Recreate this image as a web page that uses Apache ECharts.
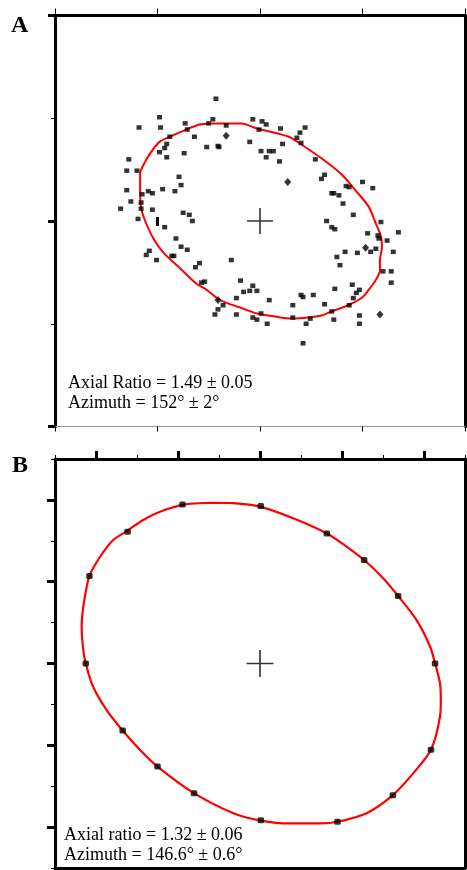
<!DOCTYPE html>
<html>
<head>
<meta charset="utf-8">
<script src="https://cdn.jsdelivr.net/npm/echarts@6/dist/echarts.min.js"></script>
<style>
html,body{margin:0;padding:0;background:#fff;}
#chart{width:467px;height:870px;}
</style>
</head>
<body>
<div id="chart"></div>
<script>
// ---------- Panel A data (arbitrary units, centre at 0,0) ----------
const panelADots = [
[-0.43,1.19],[-0.98,1.01],[-1.18,0.91],[-0.97,0.91],[-0.73,0.95],[-0.71,0.89],[-0.46,0.99],[-0.50,0.95],[-0.33,0.93],[-0.07,0.99],
[0.02,0.97],[0.06,0.94],[-0.01,0.89],[0.20,0.90],[0.44,0.91],[0.39,0.86],[0.36,0.81],[0.40,0.76],[0.22,0.75],[-0.10,0.77],
[-0.64,0.82],[-0.88,0.82],[-0.91,0.75],[-0.93,0.71],[-0.98,0.67],[-0.91,0.62],[-0.74,0.66],[-0.52,0.72],[-0.41,0.73],
[-0.40,0.72],[0.01,0.68],[0.09,0.68],[0.13,0.68],[0.06,0.62],[0.19,0.58],[0.54,0.60],[-1.28,0.60],[-1.30,0.49],[-1.20,0.49],
[-0.79,0.43],[-0.77,0.35],[-0.83,0.29],[-0.95,0.31],[-1.09,0.29],[-1.05,0.27],[-1.15,0.26],[-1.30,0.30],[-1.26,0.19],[-1.16,0.18],
[-1.16,0.12],[-1.05,0.11],[-1.36,0.12],[-1.19,0.02],[-0.75,0.08],[-0.69,0.06],[-0.66,0.00],[0.60,0.41],[0.63,0.45],
[0.84,0.34],[0.87,0.33],[1.00,0.38],[1.10,0.32],[0.70,0.27],[0.72,0.27],[0.77,0.25],[0.81,0.17],[0.91,0.06],[0.65,0.00],
[1.18,-0.01],[0.70,-0.06],[0.73,-0.08],[1.05,-0.12],[1.35,-0.11],[1.15,-0.14],[1.16,-0.17],[1.24,-0.19],[-0.93,-0.06],[-0.82,-0.17],
[-0.77,-0.25],[-0.71,-0.28],[-1.08,-0.29],[-1.11,-0.33],[-1.01,-0.38],[-0.86,-0.34],[-0.84,-0.34],[-0.28,-0.38],[-0.59,-0.41],[-0.63,-0.45],
[-0.57,-0.60],[-0.54,-0.59],[-0.19,-0.58],[-0.07,-0.63],[-0.16,-0.69],[-0.10,-0.68],[-0.03,-0.68],[-0.23,-0.75],[-0.36,-0.82],
[-0.41,-0.86],[-0.44,-0.91],[-0.23,-0.91],[-0.07,-0.94],[-0.03,-0.96],[0.01,-0.90],[0.07,-1.00],[0.09,-0.77],[0.32,-0.82],[0.40,-0.72],
[0.42,-0.74],[0.52,-0.72],[0.32,-0.94],[0.45,-1.00],[0.49,-0.95],[0.42,-1.19],[0.63,-0.81],[0.70,-0.88],[0.72,-0.96],[0.73,-0.66],
[0.75,-0.35],[0.83,-0.30],[0.78,-0.43],[0.95,-0.31],[0.90,-0.62],[0.97,-0.67],[0.94,-0.70],[0.91,-0.75],[0.87,-0.82],[0.97,-0.92],
[0.97,-1.00],[1.08,-0.30],[1.13,-0.27],[1.30,-0.30],[1.20,-0.49],[1.28,-0.49],[1.28,-0.60]
];
const panelADiamonds = [[-0.33,0.83],[0.27,0.38],[-0.41,-0.77],[1.03,-0.26],[1.17,-0.91]];
const panelAEllipse = [
[-0.49,0.95],[-0.18,0.95],[-0.03,0.90],[0.28,0.82],[0.41,0.74],[0.60,0.61],[0.80,0.45],[0.93,0.30],[1.06,0.14],[1.12,0.00],
[1.18,-0.15],[1.19,-0.25],[1.17,-0.38],[1.17,-0.48],[1.12,-0.59],[1.06,-0.67],[0.99,-0.75],[0.86,-0.82],[0.70,-0.88],[0.60,-0.92],
[0.47,-0.94],[0.31,-0.95],[0.15,-0.93],[-0.03,-0.90],[-0.20,-0.84],[-0.39,-0.77],[-0.52,-0.67],[-0.62,-0.61],[-0.78,-0.46],[-0.94,-0.31],
[-1.04,-0.17],[-1.12,0.00],[-1.16,0.13],[-1.17,0.30],[-1.17,0.46],[-1.14,0.54],[-1.07,0.66],[-0.98,0.77],[-0.88,0.82],[-0.72,0.89],
[-0.59,0.94],[-0.49,0.95]
];
const panelACentre = [[0,0]];
const panelAText = ['Axial Ratio = 1.49 \u00B1 0.05', 'Azimuth = 152\u00B0 \u00B1 2\u00B0'];

// ---------- Panel B data ----------
const panelBDots = [
[-1.89,3.89],[0.02,3.85],[-3.23,3.22],[1.63,3.18],[2.54,2.53],[-4.16,2.14],[3.37,1.65],[-4.25,0.00],
[4.27,0.00],[-3.35,-1.64],[4.17,-2.11],[-2.50,-2.52],[-1.61,-3.17],[3.24,-3.22],[0.02,-3.83],[1.89,-3.87]
];
const panelBEllipse = [
[-1.14,3.93],[-0.65,3.92],[0.02,3.83],[0.81,3.55],[1.63,3.18],[2.11,2.86],[2.54,2.53],[3.01,2.08],[3.37,1.65],[3.82,1.06],
[4.15,0.41],[4.27,0.00],[4.39,-0.48],[4.41,-0.89],[4.39,-1.30],[4.17,-2.11],[3.74,-2.68],[3.24,-3.22],[2.60,-3.66],[1.89,-3.87],
[1.46,-3.91],[0.73,-3.91],[0.02,-3.84],[-0.65,-3.66],[-1.61,-3.17],[-2.50,-2.52],[-2.93,-2.11],[-3.35,-1.64],[-3.74,-1.14],[-4.07,-0.57],
[-4.25,0.00],[-4.31,0.33],[-4.35,0.90],[-4.31,1.39],[-4.16,2.14],[-3.90,2.61],[-3.58,3.02],[-3.23,3.25],[-2.85,3.51],[-2.44,3.71],
[-1.89,3.88],[-1.14,3.93]
];
const panelBCentre = [[0,0]];
const panelBText = ['Axial ratio = 1.32 \u00B1 0.06', 'Azimuth = 146.6\u00B0 \u00B1 0.6\u00B0'];
const panelLabels = ['A', 'B'];

const SERIF = '"Liberation Serif","DejaVu Serif",serif';
const crossPath = 'path://M0,12.2h26v1.6h-26z M12.2,0h1.6v26h-1.6z';

const chart = echarts.init(document.getElementById('chart'), null, {renderer: 'canvas'});

function ax(grid, pos, min, max, interval, line, tick, minor, extra) {
  return Object.assign({
    type: 'value', gridIndex: grid, position: pos, min: min, max: max, interval: interval,
    axisLine: line ? {show: true, onZero: false, lineStyle: line} : {show: false},
    axisTick: tick ? Object.assign({show: true, inside: false}, tick) : {show: false},
    minorTick: minor ? Object.assign({show: true}, minor) : {show: false},
    axisLabel: {show: false}, splitLine: {show: false}, minorSplitLine: {show: false}
  }, extra || {});
}
const thick = {color: '#000', width: 3};
const thinTick = (len) => ({length: len, lineStyle: {color: '#000', width: 1}});
const thickTick = (len) => ({length: len, lineStyle: {color: '#000', width: 3}});

const option = {
  animation: false,
  backgroundColor: '#fff',
  grid: [
    {left: 55, top: 15.5, width: 410, height: 411},
    {left: 55, top: 459, width: 410, height: 409}
  ],
  xAxis: [
    ax(0, 'bottom', -2, 2, 1, {color: '#999', width: 1}, thinTick(5)),
    ax(0, 'top', -2, 2, 1, thick, thinTick(7)),
    ax(1, 'bottom', -5, 5, 1, thick, null),
    ax(1, 'top', -5, 5, 2, thick, thinTick(4), {splitNumber: 2, length: 8, lineStyle: {color: '#000', width: 3}}),
    // heavier ticks of panel A (drawn from the right edge)
    ax(0, 'top', -2, 2, 3, null, thickTick(4), null, {inverse: true}),
    ax(0, 'bottom', -2, 2, 3, null, thickTick(5), null, {inverse: true})
  ],
  yAxis: [
    ax(0, 'left', -2, 2, 2, thick, thickTick(7), {splitNumber: 2, length: 4, lineStyle: {color: '#000', width: 1}}),
    ax(0, 'right', -2, 2, 1, thick, null),
    ax(1, 'left', -5, 5, 2, thick, thinTick(4), {splitNumber: 2, length: 8, lineStyle: {color: '#000', width: 3}}),
    ax(1, 'right', -5, 5, 1, thick, null)
  ],
  series: [
    {type: 'line', xAxisIndex: 0, yAxisIndex: 0, data: panelAEllipse, smooth: 0.3, showSymbol: false, symbol: 'none',
     lineStyle: {color: '#ff0000', width: 2}, z: 2},
    {type: 'scatter', xAxisIndex: 0, yAxisIndex: 0, data: panelADots, symbol: 'rect', symbolSize: [5, 4.5],
     itemStyle: {color: '#000'}, z: 3},
    {type: 'scatter', xAxisIndex: 0, yAxisIndex: 0, data: panelADiamonds, symbol: 'diamond', symbolSize: [7, 8],
     itemStyle: {color: '#000'}, z: 3},
    {type: 'scatter', xAxisIndex: 0, yAxisIndex: 0, data: panelACentre, symbol: crossPath, symbolSize: [26, 26],
     itemStyle: {color: '#000'}, z: 3},
    {type: 'line', xAxisIndex: 2, yAxisIndex: 2, data: panelBEllipse, smooth: 0.3, showSymbol: false, symbol: 'none',
     lineStyle: {color: '#ff0000', width: 2.2}, z: 2},
    {type: 'scatter', xAxisIndex: 2, yAxisIndex: 2, data: panelBDots, symbol: 'roundRect', symbolSize: [6.5, 6],
     itemStyle: {color: '#000'}, z: 3},
    {type: 'scatter', xAxisIndex: 2, yAxisIndex: 2, data: panelBCentre, symbol: crossPath, symbolSize: [27, 27],
     itemStyle: {color: '#000'}, z: 3}
  ],
  graphic: [
    {type: 'text', left: 11, top: 14, style: {text: panelLabels[0], font: 'bold 24px ' + SERIF, fill: '#000'}},
    {type: 'text', left: 12, top: 454, style: {text: panelLabels[1], font: 'bold 24px ' + SERIF, fill: '#000'}},
    {type: 'text', left: 68, top: 374, style: {text: panelAText[0], font: '18px ' + SERIF, fill: '#000'}},
    {type: 'text', left: 68, top: 394, style: {text: panelAText[1], font: '18px ' + SERIF, fill: '#000'}},
    {type: 'text', left: 64, top: 826, style: {text: panelBText[0], font: '18px ' + SERIF, fill: '#000'}},
    {type: 'text', left: 64, top: 846, style: {text: panelBText[1], font: '18px ' + SERIF, fill: '#000'}}
  ]
};
chart.setOption(option);
</script>
</body>
</html>
